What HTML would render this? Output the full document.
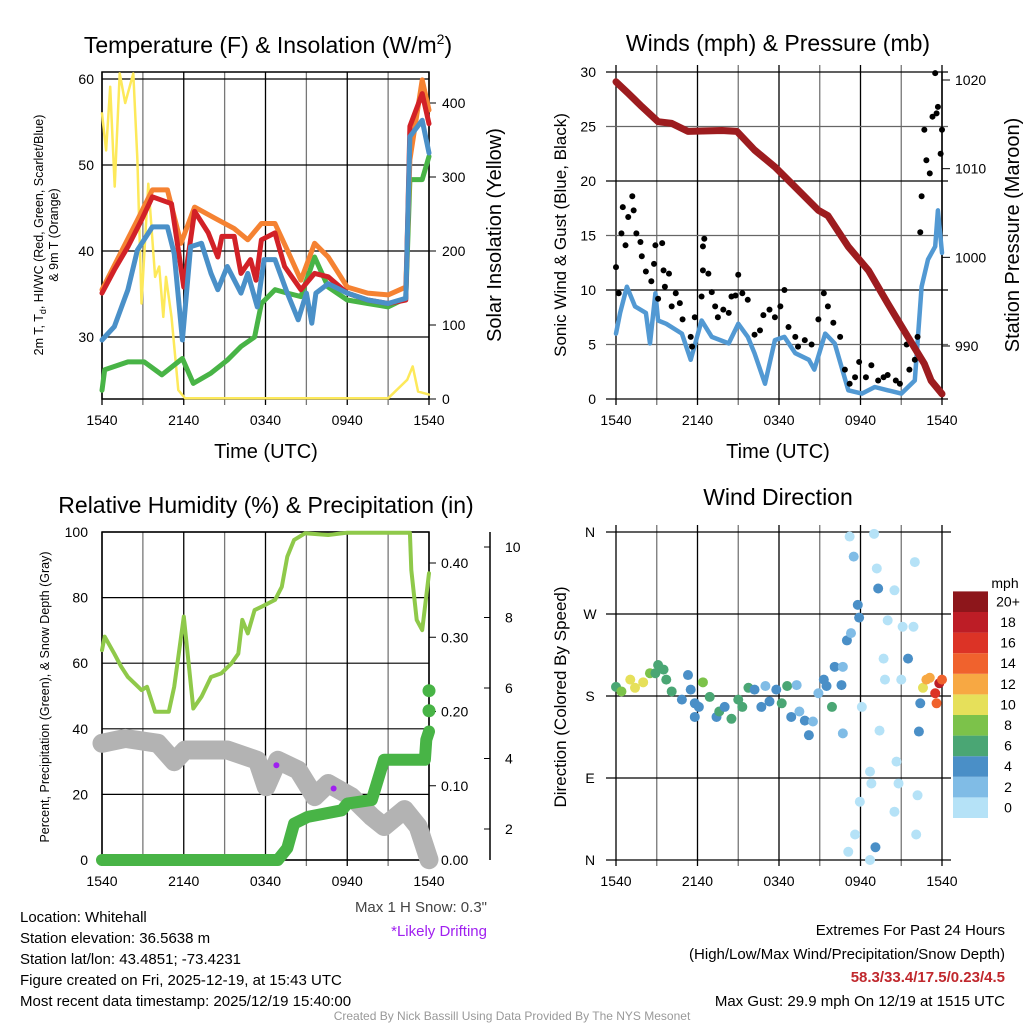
<!DOCTYPE html>
<html><head><meta charset="utf-8"><style>
body{margin:0;background:#fff}
svg{display:block;font-family:"Liberation Sans",Arial,sans-serif}
</style></head><body>
<svg id="s" width="1024" height="1024" viewBox="0 0 1024 1024">
<g id="grid"></g>
<g id="marks"></g>
<g id="txt" fill="#000">
<text x="268" y="53" font-size="23" text-anchor="middle">Temperature (F) &amp; Insolation (W/m<tspan font-size="14" dy="-9">2</tspan><tspan dy="9">)</tspan></text>
<text x="778" y="51" font-size="23" text-anchor="middle">Winds (mph) &amp; Pressure (mb)</text>
<text x="266" y="513" font-size="23" text-anchor="middle">Relative Humidity (%) &amp; Precipitation (in)</text>
<text x="778" y="505" font-size="23" text-anchor="middle">Wind Direction</text>
<text x="266" y="458" font-size="20" text-anchor="middle">Time (UTC)</text>
<text x="778" y="458" font-size="20" text-anchor="middle">Time (UTC)</text>
<text transform="translate(43,235) rotate(-90)" font-size="12.5" text-anchor="middle">2m T, T<tspan font-size="9" dy="3">d</tspan><tspan dy="-3">, HI/WC (Red, Green, Scarlet/Blue)</tspan></text>
<text transform="translate(58,235) rotate(-90)" font-size="12.5" text-anchor="middle">&amp; 9m T (Orange)</text>
<text transform="translate(501,235) rotate(-90)" font-size="20" text-anchor="middle">Solar Insolation (Yellow)</text>
<text transform="translate(566,235) rotate(-90)" font-size="17" text-anchor="middle">Sonic Wind &amp; Gust (Blue, Black)</text>
<text transform="translate(1019,235) rotate(-90)" font-size="20" text-anchor="middle">Station Pressure (Maroon)</text>
<text transform="translate(49,697) rotate(-90)" font-size="12.5" text-anchor="middle">Percent, Precipitation (Green), &amp; Snow Depth (Gray)</text>
<text transform="translate(566,697) rotate(-90)" font-size="17" text-anchor="middle">Direction (Colored By Speed)</text>
<text x="1005" y="588" font-size="14" text-anchor="middle">mph</text>
<g font-size="15">
<text x="20" y="922">Location: Whitehall</text>
<text x="20" y="943">Station elevation: 36.5638 m</text>
<text x="20" y="964">Station lat/lon: 43.4851; -73.4231</text>
<text x="20" y="985">Figure created on Fri, 2025-12-19, at 15:43 UTC</text>
<text x="20" y="1006">Most recent data timestamp: 2025/12/19 15:40:00</text>
<text x="487" y="912" text-anchor="end" fill="#444">Max 1 H Snow: 0.3"</text>
<text x="487" y="936" text-anchor="end" fill="#a020f0">*Likely Drifting</text>
<text x="1005" y="935" text-anchor="end">Extremes For Past 24 Hours</text>
<text x="1005" y="959" text-anchor="end">(High/Low/Max Wind/Precipitation/Snow Depth)</text>
<text x="1005" y="982" text-anchor="end" fill="#c0282d" font-weight="bold">58.3/33.4/17.5/0.23/4.5</text>
<text x="1005" y="1006" text-anchor="end">Max Gust: 29.9 mph On 12/19 at 1515 UTC</text>
</g>
<text x="512" y="1020" font-size="12" fill="#999" text-anchor="middle">Created By Nick Bassill Using Data Provided By The NYS Mesonet</text>
</g>
</svg>
<script>
// ---- data ----
const timeTicks=["1540","2140","0340","0940","1540"];
const redT=[0,0.9,1.9,2.9,3.7,5.1,6.0,6.8,7.8,8.5,8.8,9.7,10.2,10.9,11.3,11.7,12.7,13.4,14.6,15.6,16.6,18.0,19.5,21.0,22.3,22.6,23.5,24];
const redV=[35.1,37.8,40.5,43.6,46.3,45.5,35.8,44.6,42.1,39.3,41.7,41.7,37.4,39.0,36.6,41.3,42.1,38.2,35.5,37.4,37.0,35.1,34.3,33.9,34.3,54.5,58.3,54.8];
const orgT=[0,2.6,3.7,4.8,5.8,6.8,8.3,9.7,10.7,11.7,12.7,13.6,14.6,15.6,16.6,18.0,19.5,21.0,22.3,22.6,23.5,24];
const orgV=[35.5,43.6,47.1,47.1,40.9,45.1,43.8,42.6,41.3,43.2,43.2,40.1,36.6,40.9,39.3,35.8,35.1,34.9,35.8,50.6,59.9,56.4];
const bluT=[0,0.9,1.9,2.6,3.7,4.8,5.3,5.9,6.5,7.3,8.0,8.5,9.2,10.2,10.7,11.4,11.9,12.7,13.6,14.4,15.0,15.4,15.7,16.6,18.0,19.5,21.0,22.3,22.6,23.5,24];
const bluV=[29.65,31.2,35.5,40.1,42.8,42.8,39.7,29.65,40.5,40.9,37.4,35.5,38.2,35.1,37.4,33.5,39.0,39.0,35.1,32.0,35.1,31.6,35.1,36.2,35.1,34.3,33.9,34.5,53.3,55.2,51.4];
const grnT=[0,0.2,1.9,3.1,4.4,5.9,6.7,8.0,9.2,10.2,11.2,11.7,12.7,13.6,14.6,15.6,16.6,18.0,19.5,21.0,22.3,22.6,23.5,24];
const grnV=[23.8,26.2,27.1,27.1,25.6,27.5,24.6,25.8,27.3,28.9,30.0,33.9,35.5,35.1,34.7,39.3,35.8,34.3,33.9,33.5,34.5,48.3,48.3,51.0];
const solT=[0,0.3,0.6,0.93,1.3,1.7,2.3,2.6,2.9,3.4,3.9,4.2,4.5,4.7,5.1,5.6,6.1,21.0,22.4,22.8,23.2,24];
const solV=[386,336,422,287,440,400,440,323,129,291,165,179,111,165,111,12,1,1,26,44,10,6];
const windT=[0,0.3,0.8,1.4,2.2,2.5,2.9,3.1,3.7,4.85,5.5,6.3,7.05,8.3,9.0,9.7,10.2,10.97,11.7,12.4,13.2,14.2,14.6,15.4,16.1,17.1,18.1,19.05,20.0,21.0,22.0,22.5,22.97,23.5,23.7,24];
const windV=[6.0,7.9,10.3,8.5,7.9,5.1,9.7,7.2,6.9,6.0,3.6,7.2,5.7,5.1,6.9,5.7,4.2,1.4,5.4,5.7,4.2,3.6,2.7,6.0,5.1,0.8,0.5,1.1,0.8,0.5,1.7,10.3,12.8,14.0,17.3,13.4];
const gustT=[0,0.2,0.4,0.5,0.7,0.9,1.2,1.3,1.5,1.8,1.9,2.2,2.6,2.8,2.9,3.1,3.4,3.5,3.6,3.9,4.1,4.4,4.7,4.9,5.5,5.6,5.8,6.3,6.4,6.5,6.4,6.8,7.05,7.3,7.5,7.9,8.3,8.5,8.8,9.0,9.3,9.7,10.2,10.6,10.85,11.3,11.7,12.1,12.4,12.7,13.2,13.4,13.9,14.4,14.9,15.3,15.6,16.0,16.5,16.85,17.2,17.6,17.9,18.4,18.8,19.3,19.7,20.0,20.6,20.9,21.4,21.6,22.0,22.2,22.4,22.5,22.7,22.85,23.1,23.3,23.6,23.7,23.9,24.0,23.5];
const gustV=[12.1,9.7,15.2,17.6,14.1,16.7,18.6,17.3,15.2,14.4,13.1,11.7,10.8,12.4,14.1,9.2,14.3,11.8,10.3,11.5,8.5,9.7,8.8,7.3,5.7,4.8,7.5,9.4,14.0,14.7,11.8,11.5,9.8,8.5,7.5,8.2,7.9,9.4,9.5,11.4,9.7,9.1,5.9,6.3,7.7,8.2,7.5,8.5,10.0,6.6,5.7,4.8,5.4,5.0,7.3,9.7,8.5,7.0,5.7,2.7,1.4,2.0,3.4,2.0,3.1,1.7,2.0,2.2,1.7,1.4,5.0,2.7,3.6,5.7,15.3,18.6,24.7,21.9,20.7,25.9,26.2,26.8,22.5,24.7,29.9];
const presT=[0,0.9,1.9,3.1,4.1,5.3,7.8,8.9,10.2,11.7,13.4,14.9,15.6,17.1,18.6,20.0,21.5,22.7,23.2,24];
const presV=[1019.8,1018.5,1017.0,1015.3,1015.1,1014.2,1014.3,1014.2,1012.1,1010.2,1007.6,1005.3,1004.7,1001.2,998.5,994.8,991.0,988.0,986.1,984.6];
const rhT=[0,0.2,0.9,1.4,1.9,2.9,3.3,3.9,4.9,5.3,5.7,6.0,6.7,7.3,8.0,8.75,9.5,10.0,10.3,10.7,11.2,11.7,12.7,13.2,13.6,14.1,14.9,16.6,18.0,22.6,22.7,23.1,23.5,24];
const rhV=[64.0,68.1,62.9,59.0,55.8,51.8,52.8,45.2,45.2,52.8,65.0,74.2,46.2,49.8,55.8,56.9,59.9,62.9,73.2,69.1,76.2,77.2,79.3,83.3,92.5,97.6,99.6,99.1,99.8,99.8,88.4,73.2,70.1,87.4];
const prT=[0,12.9,13.6,14.1,15.1,17.6,18.0,19.8,20.7,23.7,23.8,24];
const prV=[0,0,0.016,0.049,0.058,0.067,0.076,0.081,0.135,0.135,0.162,0.173];
const prExtraV=[0.201,0.228];
const snT=[0,1.7,4.1,5.3,6.1,9.2,11.4,12.05,12.9,14.4,15.6,16.6,18.3,19.8,20.7,22.2,23.2,24];
const snV=[4.43,4.57,4.43,3.91,4.24,4.24,3.95,3.20,3.95,3.67,2.92,3.29,2.92,2.35,2.07,2.55,2.07,1.13];
const driftT=[12.8,17.0];
const driftV=[3.81,3.15];
const dirT=[0,0.4,1.05,1.4,2.0,2.5,2.9,3.1,3.5,3.7,4.1,4.85,5.3,5.5,5.8,6.1,5.8,6.4,6.9,7.4,7.6,8.0,8.5,9.0,9.3,9.75,10.2,10.7,11.0,11.3,11.8,12.2,12.6,12.9,13.3,13.5,13.9,14.2,14.5,14.9,15.3,15.5,15.9,16.1,16.6,16.7,16.7,17.0,17.3,17.5,17.8,17.9,17.2,18.1,17.95,18.7,19.0,19.2,19.3,19.7,19.8,20.0,20.5,20.65,20.8,21.0,21.1,21.5,21.9,22.0,22.2,22.1,22.4,22.3,22.6,22.85,23.1,23.5,23.6,23.8,24.0,19.1,17.1,18.7,17.6,18.8,20.5,19.4];
const dirV=[190,185,198,189,195,205,205,214,209,198,185,176,203,187,172,168,157,195,179,157,163,168,155,176,168,189,187,168,191,174,187,172,191,157,192,163,153,137,152,183,198,191,168,212,192,212,139,241,249,333,280,266,355,168,64,97,358,320,298,221,198,263,296,108,84,198,256,221,256,327,71,28,172,141,189,198,200,183,172,194,198,14,9,0,28,84,53,142];
const dirSpd=[7,9,10,10,10,8,7,6,6,7,6,5,4,5,4,4,4,8,7,5,6,4,6,6,6,7,5,4,2,4,4,6,6,4,3,2,4,4,2,2,4,4,6,4,4,2,2,4,2,2,4,4,1,1,1,1,1,1,4,1,1,1,1,1,1,1,1,4,1,1,1,1,4,4,11,13,13,16,15,18,15,4,1,1,1,1,1,1];
const dirLabels=["N","E","S","W","N"];
const cbLabels=["0","2","4","6","8","10","12","14","16","18","20+"];
const cbColors=["#b5e2f7","#80bce6","#4a8fc7","#4aa674","#7cc24a","#e6e05a","#f7a843","#f0622d","#dc3326","#bd1d26","#8d161b"];
const tempTicks=[30,40,50,60],solTicks=[0,100,200,300,400],windTicks=[0,5,10,15,20,25,30],presTicks=[990,1000,1010,1020];
const pctTicks=[0,20,40,60,80,100],prTicks=[0,0.1,0.2,0.3,0.4],snTicks=[2,4,6,8,10];

// ---- helpers ----
const NS="http://www.w3.org/2000/svg";
const G=document.getElementById('grid'),M=document.getElementById('marks');
function el(t,a,p){const e=document.createElementNS(NS,t);for(const k in a)e.setAttribute(k,a[k]);(p||G).appendChild(e);return e;}
function lin(d0,d1,r0,r1){return v=>r0+(v-d0)/(d1-d0)*(r1-r0);}
const xL=lin(0,24,102,429),xR=lin(0,24,616,942);
const yT=lin(30,60,337,79),yS=lin(0,400,399,103);
const yW=lin(0,30,399,72),yP=lin(990,1020,346,80);
const yPct=lin(0,100,860,532),yPr=lin(0,0.4,860,563),ySn=lin(2,10,829,547);
const yDir=lin(0,360,860,532);
function path(T,V,xs,ys){return T.map((t,i)=>(i?'L':'M')+xs(t).toFixed(1)+' '+ys(V[i]).toFixed(1)).join(' ');}
function txt(x,y,s,size,anchor,name){const e=el('text',{x:x,y:y,'font-size':size,'text-anchor':anchor||'middle'});e.textContent=s;


return e;}

// ---- frames / grids ----
function vgrid(xs,x0,y0,y1){for(let h=0;h<=24;h+=3){const l=el('line',{x1:xs(h),x2:xs(h),y1:y0,y2:y1,stroke:(h%6?'#777':'#000'),'stroke-width':1.3});

}
timeTicks.forEach((s,i)=>txt(xs(i*6),y1+20,s,14,'middle','x-tick-label'));}
// panel 1
vgrid(xL,0,72,405);
tempTicks.forEach(v=>{const l=el('line',{x1:102,x2:429,y1:yT(v),y2:yT(v),stroke:'#000','stroke-width':1.2});


txt(94,yT(v)+5,String(v),14,'end','y-tick-label-temp');});
solTicks.forEach(v=>{el('line',{x1:429,x2:436,y1:yS(v),y2:yS(v),stroke:'#000'});txt(442,yS(v)+5,String(v),14,'start','y-tick-label-insolation');});
el('rect',{x:102,y:72,width:327,height:327,fill:'none',stroke:'#000','stroke-width':1.5});
// panel 2
vgrid(xR,0,65,405);
windTicks.forEach(v=>{const l=el('line',{x1:606,x2:948,y1:yW(v),y2:yW(v),stroke:(v%10?'#666':'#000'),'stroke-width':1.2});


txt(596,yW(v)+5,String(v),14,'end','y-tick-label-wind');});
presTicks.forEach(v=>{el('line',{x1:942,x2:950,y1:yP(v),y2:yP(v),stroke:'#000'});txt(955,yP(v)+5,String(v),14,'start','y-tick-label-pressure');});
el('line',{x1:942,x2:942,y1:72,y2:399,stroke:'#000','stroke-width':1.5});
// panel 3
vgrid(xL,0,532,866);
pctTicks.forEach(v=>{const l=el('line',{x1:102,x2:429,y1:yPct(v),y2:yPct(v),stroke:'#000','stroke-width':1.2});


txt(88,yPct(v)+5,String(v),14,'end','y-tick-label-percent');});
prTicks.forEach(v=>{el('line',{x1:429,x2:436,y1:yPr(v),y2:yPr(v),stroke:'#000'});txt(441,yPr(v)+5,v.toFixed(2),14,'start','y-tick-label-precip');});
el('line',{x1:490,x2:490,y1:532,y2:860,stroke:'#000','stroke-width':1.5});
snTicks.forEach(v=>{el('line',{x1:484,x2:490,y1:ySn(v),y2:ySn(v),stroke:'#000'});txt(505,ySn(v)+5,String(v),14,'start','y-tick-label-snow');});
el('rect',{x:102,y:532,width:327,height:328,fill:'none',stroke:'#000','stroke-width':1.5});
// panel 4
vgrid(xR,0,525,866);
dirLabels.forEach((s,i)=>{const l=el('line',{x1:606,x2:951,y1:yDir(i*90),y2:yDir(i*90),stroke:'#000','stroke-width':1.2});


txt(590,yDir(i*90)+5,s,14,'middle','y-tick-label-direction');});
cbColors.forEach((c,i)=>{const y=818-(i+1)*20.6;const r=el('rect',{x:953,y:y,width:35,height:20.6,fill:c});


txt(1008,y+15,cbLabels[i],14,'middle','colorbar-label');});

// ---- series ----
function line(T,V,xs,ys,col,w,name){const p=el('path',{d:path(T,V,xs,ys),fill:'none',stroke:col,'stroke-width':w,'stroke-linejoin':'round','stroke-linecap':'round'},M);

}
function dots(T,V,xs,ys,col,r,name){T.forEach((t,i)=>{const c=el('circle',{cx:xs(t),cy:ys(V[i]),r:r,fill:col},M);

});}
line(solT,solV,xL,yS,'#fde95a',2.5,'insolation-line');
line(grnT,grnV,xL,yT,'#48b446',5,'dewpoint-line');
line(orgT,orgV,xL,yT,'#f58232',5,'temp-9m-line');
line(redT,redV,xL,yT,'#d22127',5,'temp-2m-line');
line(bluT,bluV,xL,yT,'#4a90c8',5,'heat-index-line');
line(windT,windV,xR,yW,'#5299d3',4.5,'sonic-wind-line');
dots(gustT,gustV,xR,yW,'#000',3,'gust-point');
line(presT,presV,xR,yP,'#9d1c1f',7,'pressure-line');
line(snT,snV,xL,ySn,'#b3b3b3',19,'snow-depth-line');
dots(driftT,driftV,xL,ySn,'#a020f0',3,'drifting-marker');
line(rhT,rhV,xL,yPct,'#8fc94a',4,'humidity-line');
line(prT,prV,xL,yPr,'#48b446',12,'precip-line');
prExtraV.forEach(v=>{const c=el('circle',{cx:xL(24),cy:yPr(v),r:6.5,fill:'#48b446'},M);

});
dirT.forEach((t,i)=>{const k=Math.min(10,Math.floor(dirSpd[i]/2));const c=el('circle',{cx:xR(t),cy:yDir(dirV[i]),r:5,fill:cbColors[k]},M);

});
</script>
</body></html>
